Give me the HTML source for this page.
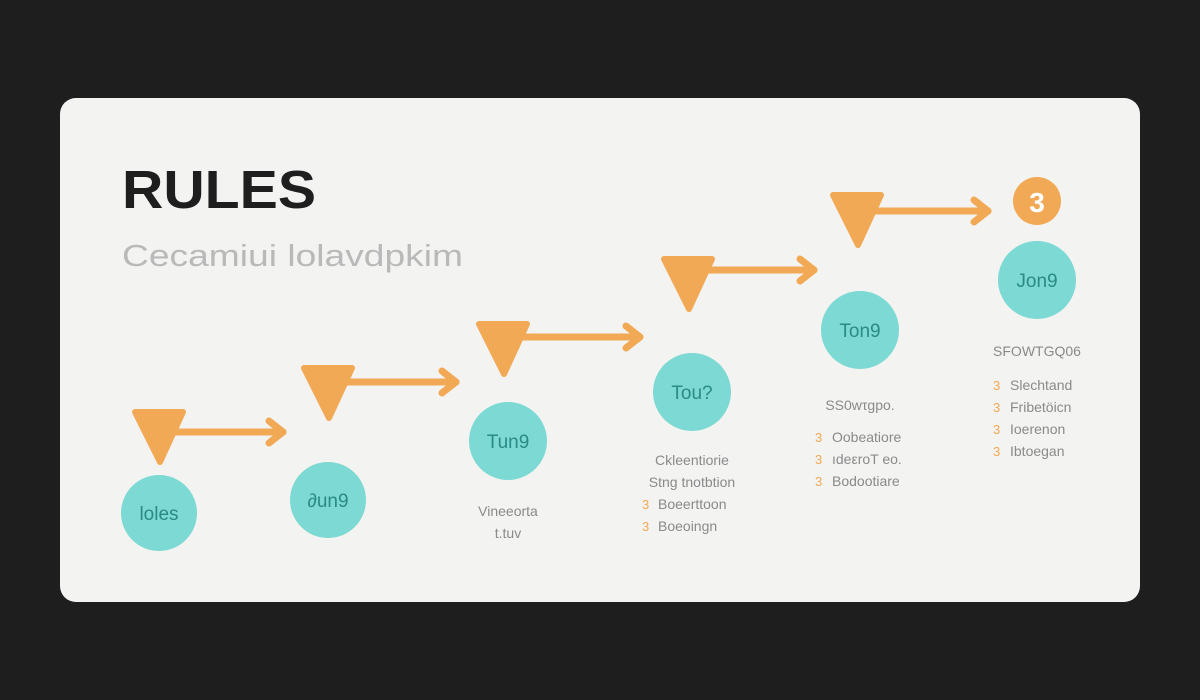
<!DOCTYPE html>
<html><head><meta charset="utf-8"><style>
body{margin:0;background:#1f1e1e;}
svg{display:block;font-family:"Liberation Sans",sans-serif;}
</style></head><body>
<svg width="1200" height="700" viewBox="0 0 1200 700">
<rect width="1200" height="700" fill="#1f1e1e"/>
<rect x="60" y="98" width="1080" height="504" rx="16" fill="#f3f3f2"/>
<text x="122" y="208" font-size="54" font-weight="bold" fill="#1e1e1e" textLength="194" lengthAdjust="spacingAndGlyphs">RULES</text>
<text x="122" y="266" font-size="31" fill="#b9b9b9" textLength="341" lengthAdjust="spacingAndGlyphs">Cecamiui lolavdpkim</text>
<defs>
<g id="tri"><path d="M-24,0 L24,0 L1,50 Z" fill="#f2a955" stroke="#f2a955" stroke-width="6" stroke-linejoin="round"/></g>
</defs>
<g stroke="#f2a955" stroke-width="7" fill="none" stroke-linecap="round" stroke-linejoin="round">
<line x1="175" y1="432" x2="283" y2="432"/><polyline points="269,421 283,432 269,443"/>
<line x1="345" y1="382" x2="456" y2="382"/><polyline points="442,371 456,382 442,393"/>
<line x1="520" y1="337" x2="640" y2="337"/><polyline points="626,326 640,337 626,348"/>
<line x1="705" y1="270" x2="814" y2="270"/><polyline points="800,259 814,270 800,281"/>
<line x1="875" y1="211" x2="988" y2="211"/><polyline points="974,200 988,211 974,222"/>
</g>
<use href="#tri" x="159" y="412"/>
<use href="#tri" x="328" y="368"/>
<use href="#tri" x="503" y="324"/>
<use href="#tri" x="688" y="259"/>
<use href="#tri" x="857" y="195"/>
<g fill="#7dd9d3">
<circle cx="159" cy="513" r="38"/><circle cx="328" cy="500" r="38"/><circle cx="508" cy="441" r="39"/>
<circle cx="692" cy="392" r="39"/><circle cx="860" cy="330" r="39"/><circle cx="1037" cy="280" r="39"/>
</g>
<circle cx="1037" cy="201" r="24" fill="#f2a955"/>
<text x="1037" y="212" font-size="28" font-weight="bold" fill="#fff" text-anchor="middle">3</text>
<g font-size="19" fill="#2a8a86" text-anchor="middle">
<text x="159" y="520">loles</text><text x="328" y="507">∂un9</text><text x="508" y="448">Tun9</text>
<text x="692" y="399">Tou?</text><text x="860" y="337">Ton9</text><text x="1037" y="287">Jon9</text>
</g>
<g font-size="14" fill="#8a8a8a" text-anchor="middle">
<text x="508" y="516">Vineeorta</text><text x="508" y="538">t.tuv</text>
<text x="692" y="465">Ckleentiorie</text><text x="692" y="487">Stng tnotbtion</text>
<text x="860" y="410">SS0wτgpo.</text>
<text x="1037" y="356">SFOWTGQ06</text>
</g>
<g font-size="14" fill="#8a8a8a">
<text x="658" y="509">Boeerttoon</text><text x="658" y="531">Boeoingn</text>
<text x="832" y="442">Oobeatiore</text><text x="832" y="464">ıdeεroT eo.</text><text x="832" y="486">Bodootiare</text>
<text x="1010" y="390">Slechtand</text><text x="1010" y="412">Fribetöicn</text><text x="1010" y="434">Ioerenon</text><text x="1010" y="456">Ibtoegan</text>
</g>
<g font-size="13" fill="#f2a955">
<text x="642" y="509">3</text><text x="642" y="531">3</text>
<text x="815" y="442">3</text><text x="815" y="464">3</text><text x="815" y="486">3</text>
<text x="993" y="390">3</text><text x="993" y="412">3</text><text x="993" y="434">3</text><text x="993" y="456">3</text>
</g>
</svg>
</body></html>
